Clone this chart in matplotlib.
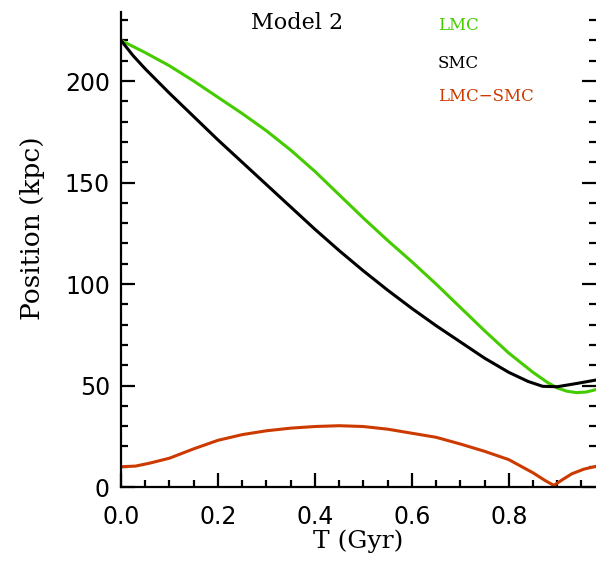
import matplotlib
matplotlib.use('Agg')
import matplotlib.pyplot as plt
from matplotlib.ticker import MultipleLocator

# time (Gyr) and galactocentric distances (kpc)
t_lmc = [0.0, 0.05, 0.1, 0.15, 0.2, 0.25, 0.3, 0.35, 0.4, 0.45, 0.5, 0.55, 0.6, 0.65,
         0.7, 0.75, 0.8, 0.85, 0.88, 0.9, 0.92, 0.94, 0.96, 0.98]
r_lmc = [220.0, 214.0, 207.5, 200.0, 192.0, 184.0, 175.5, 166.0, 155.5, 144.0, 132.5,
         121.5, 111.0, 100.0, 88.5, 77.0, 66.0, 56.5, 51.5, 48.8, 47.2, 46.5, 46.8, 48.0]

t_smc = [0.0, 0.025, 0.05, 0.1, 0.15, 0.2, 0.25, 0.3, 0.35, 0.4, 0.45, 0.5, 0.55, 0.6,
         0.65, 0.7, 0.75, 0.8, 0.84, 0.87, 0.9, 0.94, 0.98]
r_smc = [220.0, 212.5, 206.0, 194.0, 182.5, 171.0, 160.0, 149.0, 138.0, 127.0, 116.5,
         106.5, 97.0, 88.0, 79.5, 71.5, 63.5, 56.5, 52.0, 49.6, 49.4, 51.0, 52.7]

t_sep = [0.0, 0.03, 0.06, 0.1, 0.15, 0.2, 0.25, 0.3, 0.35, 0.4, 0.45, 0.5, 0.55, 0.6,
         0.65, 0.7, 0.75, 0.8, 0.85, 0.875, 0.893, 0.91, 0.93, 0.955, 0.98]
r_sep = [10.0, 10.3, 11.8, 14.2, 18.8, 23.0, 25.8, 27.7, 29.0, 29.8, 30.2, 29.8, 28.5,
         26.5, 24.5, 21.2, 17.6, 13.5, 7.0, 3.2, 0.8, 3.5, 6.5, 8.8, 10.2]

green = '#44cc00'
orange = '#cc3a00'

fig = plt.figure(figsize=(5.96, 5.64), dpi=100)
ax = fig.add_axes([0.203, 0.1365, 0.797, 0.8422])

for t, r, c in [(t_lmc, r_lmc, green), (t_smc, r_smc, 'black'), (t_sep, r_sep, orange)]:
    ax.plot(t, r, color=c, lw=2.2, solid_joinstyle='round')

ax.set_xlim(0, 0.98)
ax.set_ylim(0, 234)
ax.spines['top'].set_visible(False)
ax.spines['right'].set_visible(False)
for s in ax.spines.values():
    s.set_linewidth(1.6)

ax.xaxis.set_major_locator(MultipleLocator(0.2))
ax.xaxis.set_minor_locator(MultipleLocator(0.05))
ax.yaxis.set_major_locator(MultipleLocator(50))
ax.yaxis.set_minor_locator(MultipleLocator(10))
ax.tick_params(which='both', direction='in', right=True, top=False, width=1.6)
ax.tick_params(which='major', length=10)
ax.tick_params(which='minor', length=5)
ax.tick_params(axis='x', which='major', pad=13, labelsize=17)
ax.tick_params(axis='y', which='major', pad=8, labelsize=17)
ax.xaxis.set_major_formatter(lambda v, p: f'{v:.1f}')

ax.set_xlabel('T (Gyr)', family='DejaVu Serif', fontsize=18, labelpad=0)
ax.set_ylabel('Position (kpc)', family='DejaVu Serif', fontsize=19)
ax.yaxis.set_label_coords(-0.16, 0.545)

fig.text(0.498, 0.96, 'Model 2', family='DejaVu Serif', fontsize=16, ha='center', va='center')
fig.text(0.735, 0.955, 'LMC', family='DejaVu Serif', fontsize=12, color=green, va='center')
fig.text(0.735, 0.888, 'SMC', family='DejaVu Serif', fontsize=12, color='black', va='center')
fig.text(0.735, 0.829, 'LMC\u2212SMC', family='DejaVu Serif', fontsize=12, color=orange, va='center')

fig.savefig('out.png', dpi=100)
